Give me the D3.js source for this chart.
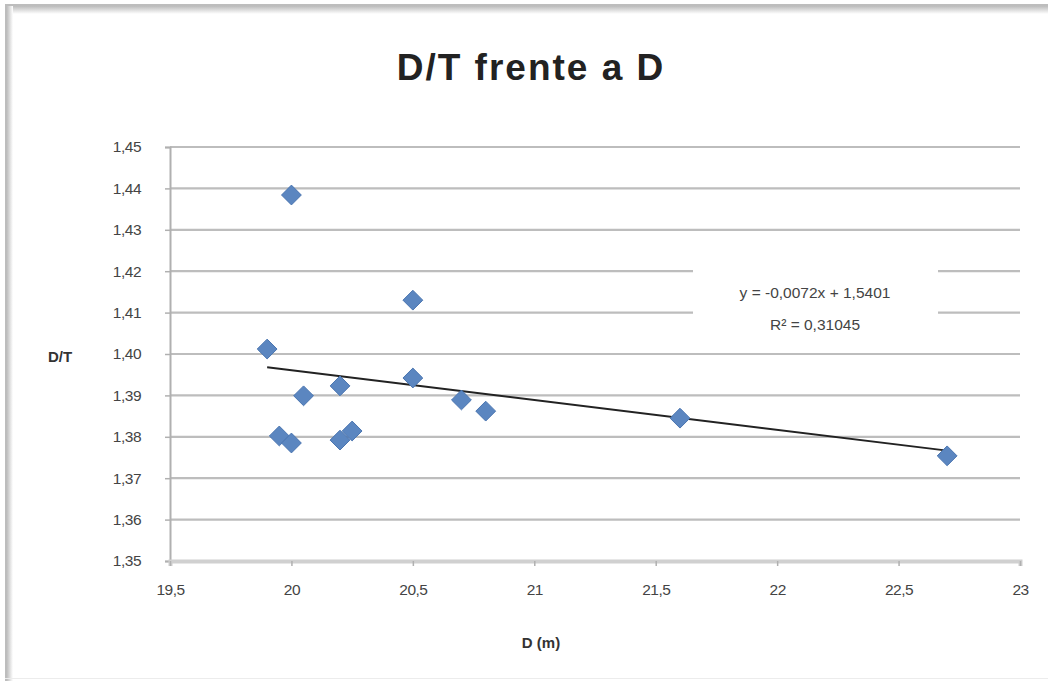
<!DOCTYPE html>
<html><head><meta charset="utf-8">
<script src="https://cdn.jsdelivr.net/npm/d3@7"></script>
<style>
html,body{margin:0;padding:0;background:#fff;}
svg{display:block;}
text{font-family:"Liberation Sans",Arial,sans-serif;}
</style></head>
<body>
<svg id="chart" width="1048" height="681"></svg>
<script>
const title = "D/T frente a D";
const xTitle = "D (m)";
const yTitle = "D/T";
const xTicks = [19.5, 20, 20.5, 21, 21.5, 22, 22.5, 23];
const yTicks = [1.35, 1.36, 1.37, 1.38, 1.39, 1.40, 1.41, 1.42, 1.43, 1.44, 1.45];
const xValues = [20.0, 19.9, 20.5, 20.5, 20.2, 20.05, 19.95, 20.0, 20.2, 20.25, 20.7, 20.8, 21.6, 22.7];
const yValues = [1.4384, 1.4012, 1.4130, 1.3942, 1.3923, 1.3899, 1.3802, 1.3785, 1.3792, 1.3814, 1.3889, 1.3862, 1.3845, 1.3754];
const slope = -0.0072, intercept = 1.5401;
const eqLines = ["y = -0,0072x + 1,5401", "R² = 0,31045"];

const svg = d3.select("#chart");
const fmt = (d, n) => d.toFixed(n).replace(".", ",");

// frame
const defs = svg.append("defs");
const gt = defs.append("linearGradient").attr("id","gt").attr("x1",0).attr("y1",0).attr("x2",0).attr("y2",1);
gt.append("stop").attr("offset",0).attr("stop-color","#aaa");
gt.append("stop").attr("offset",1).attr("stop-color","#fff");
const gl = defs.append("linearGradient").attr("id","gl").attr("x1",0).attr("y1",0).attr("x2",1).attr("y2",0);
gl.append("stop").attr("offset",0).attr("stop-color","#aaa");
gl.append("stop").attr("offset",1).attr("stop-color","#fff");
svg.append("rect").attr("x",5).attr("y",4).attr("width",1043).attr("height",10).attr("fill","url(#gt)");
svg.append("rect").attr("x",5).attr("y",4).attr("width",8).attr("height",677).attr("fill","url(#gl)");
svg.append("rect").attr("x",5).attr("y",4).attr("width",1043).attr("height",2).attr("fill","#bdbdbd");
svg.append("rect").attr("x",5).attr("y",4).attr("width",2).attr("height",677).attr("fill","#bdbdbd");
svg.append("rect").attr("x",5).attr("y",678).attr("width",1043).attr("height",1).attr("fill","#ececec");

const x = d3.scaleLinear().domain([19.5, 23]).range([170, 1020]);
const y = d3.scaleLinear().domain([1.35, 1.45]).range([561, 147]);

// gridlines
svg.append("g").selectAll("line").data(yTicks).join("line")
  .attr("x1", x(19.5)).attr("x2", x(23))
  .attr("y1", d => y(d)).attr("y2", d => y(d))
  .attr("stroke", "#bdbdbd").attr("stroke-width", 2.2);

// axes
const yAxis = svg.append("g").attr("transform", `translate(${x(19.5)},0)`)
  .call(d3.axisLeft(y).tickValues(yTicks).tickFormat(d => fmt(d, 2)).tickSize(5).tickPadding(24));
const xAxis = svg.append("g").attr("transform", `translate(0,${y(1.35)})`)
  .call(d3.axisBottom(x).tickValues(xTicks).tickFormat(d => Number.isInteger(d) ? String(d) : fmt(d, 1)).tickSize(5).tickPadding(24));
[yAxis, xAxis].forEach(a => {
  a.select(".domain").attr("stroke", "#b0b0b0").attr("stroke-width", 2);
  a.selectAll(".tick line").attr("stroke", "#b0b0b0").attr("stroke-width", 1.5);
  a.selectAll(".tick text").attr("font-size", 15.5).attr("fill", "#444")
    .attr("font-family", '"Liberation Sans",Arial,sans-serif').attr("letter-spacing", -0.5);
});
xAxis.selectAll(".tick text").attr("dy", "0.35em");
xAxis.select(".domain").attr("stroke", "#d0d0d0").attr("stroke-width", 4);

// equation label background (covers gridlines)
svg.append("rect").attr("x", 693).attr("y", 270).attr("width", 245).attr("height", 68).attr("fill", "#fff");

// trend line
const xs = d3.extent(xValues);
svg.append("line")
  .attr("x1", x(xs[0])).attr("y1", y(slope * xs[0] + intercept))
  .attr("x2", x(xs[1])).attr("y2", y(slope * xs[1] + intercept))
  .attr("stroke", "#222").attr("stroke-width", 2);

// markers
const sym = d3.symbol().type(d3.symbolDiamond2).size(250);
svg.append("g").selectAll("path").data(xValues.map((v, i) => [v, yValues[i]])).join("path")
  .attr("d", sym)
  .attr("transform", d => `translate(${x(d[0])},${y(d[1])})`)
  .attr("fill", "#5b86c0").attr("stroke", "#4a75b0").attr("stroke-width", 1);

// equation text
svg.append("g").selectAll("text").data(eqLines).join("text")
  .attr("x", 815).attr("y", (d, i) => 298 + i * 32)
  .attr("text-anchor", "middle").attr("font-size", 15.5).attr("fill", "#444")
  .text(d => d);

// titles
svg.append("text").attr("x", 531).attr("y", 80).attr("text-anchor", "middle")
  .attr("font-size", 37).attr("font-weight", "bold").attr("fill", "#222")
  .attr("letter-spacing", 2).text(title);
svg.append("text").attr("x", 541).attr("y", 648).attr("text-anchor", "middle")
  .attr("font-size", 15).attr("font-weight", "bold").attr("fill", "#333").text(xTitle);
svg.append("text").attr("x", 60).attr("y", 362).attr("text-anchor", "middle")
  .attr("font-size", 15).attr("font-weight", "bold").attr("fill", "#333").text(yTitle);
</script>
</body></html>
